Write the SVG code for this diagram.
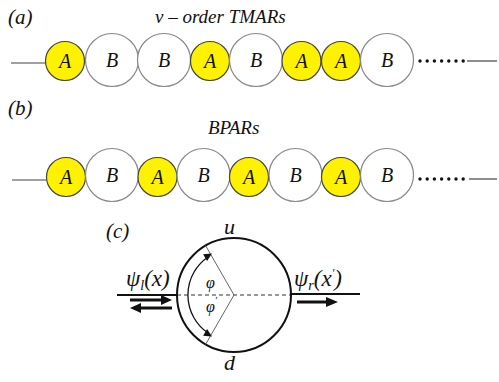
<svg xmlns="http://www.w3.org/2000/svg" width="499" height="382" viewBox="0 0 499 382">
<rect width="499" height="382" fill="#fff"/>
<text x="8" y="24" style="font-family:'Liberation Serif','Times New Roman',serif;font-style:italic;font-size:21px;fill:#111">(a)</text>
<text x="155" y="23" style="font-family:'Liberation Serif','Times New Roman',serif;font-style:italic;font-size:19px;fill:#111">ν – order TMARs</text>
<text x="8" y="115" style="font-family:'Liberation Serif','Times New Roman',serif;font-style:italic;font-size:21px;fill:#111">(b)</text>
<text x="208" y="134" style="font-family:'Liberation Serif','Times New Roman',serif;font-style:italic;font-size:19px;fill:#111">BPARs</text>

<g id="connectors" stroke="#444" stroke-width="1.2">
<line x1="11" y1="63" x2="46" y2="63"/>
<line x1="467" y1="61" x2="497" y2="61"/>
<line x1="12" y1="180" x2="46" y2="180"/>
<line x1="469" y1="179" x2="497" y2="179"/>
<g fill="#111" stroke="none">
<circle cx="420" cy="61" r="1.7"/><circle cx="427.2" cy="61" r="1.7"/><circle cx="434.4" cy="61" r="1.7"/><circle cx="441.6" cy="61" r="1.7"/><circle cx="448.8" cy="61" r="1.7"/><circle cx="456" cy="61" r="1.7"/><circle cx="463.2" cy="61" r="1.7"/>
<circle cx="420" cy="179" r="1.7"/><circle cx="427.2" cy="179" r="1.7"/><circle cx="434.4" cy="179" r="1.7"/><circle cx="441.6" cy="179" r="1.7"/><circle cx="448.8" cy="179" r="1.7"/><circle cx="456" cy="179" r="1.7"/><circle cx="463.2" cy="179" r="1.7"/>
</g>
</g>

<g id="rowA">
<g id="a1"><circle cx="65" cy="61" r="19.5" fill="#fff200" stroke="#444" stroke-width="1.2"/><text x="65" y="68" text-anchor="middle" style="font-family:'Liberation Serif','Times New Roman',serif;font-style:italic;font-size:20px;fill:#111">A</text></g>
<g id="a2"><circle cx="112" cy="60" r="26.5" fill="#fff" stroke="#888" stroke-width="1.2"/><text x="112" y="67" text-anchor="middle" style="font-family:'Liberation Serif','Times New Roman',serif;font-style:italic;font-size:20px;fill:#111">B</text></g>
<g id="a3"><circle cx="164" cy="60" r="26.5" fill="#fff" stroke="#888" stroke-width="1.2"/><text x="164" y="67" text-anchor="middle" style="font-family:'Liberation Serif','Times New Roman',serif;font-style:italic;font-size:20px;fill:#111">B</text></g>
<g id="a4"><circle cx="210" cy="61" r="19.5" fill="#fff200" stroke="#444" stroke-width="1.2"/><text x="210" y="68" text-anchor="middle" style="font-family:'Liberation Serif','Times New Roman',serif;font-style:italic;font-size:20px;fill:#111">A</text></g>
<g id="a5"><circle cx="256" cy="60" r="26.5" fill="#fff" stroke="#888" stroke-width="1.2"/><text x="256" y="67" text-anchor="middle" style="font-family:'Liberation Serif','Times New Roman',serif;font-style:italic;font-size:20px;fill:#111">B</text></g>
<g id="a6"><circle cx="301.5" cy="61" r="19.5" fill="#fff200" stroke="#444" stroke-width="1.2"/><text x="301.5" y="68" text-anchor="middle" style="font-family:'Liberation Serif','Times New Roman',serif;font-style:italic;font-size:20px;fill:#111">A</text></g>
<g id="a7"><circle cx="341" cy="61" r="19.5" fill="#fff200" stroke="#444" stroke-width="1.2"/><text x="341" y="68" text-anchor="middle" style="font-family:'Liberation Serif','Times New Roman',serif;font-style:italic;font-size:20px;fill:#111">A</text></g>
<g id="a8"><circle cx="387" cy="60" r="26.5" fill="#fff" stroke="#888" stroke-width="1.2"/><text x="387" y="67" text-anchor="middle" style="font-family:'Liberation Serif','Times New Roman',serif;font-style:italic;font-size:20px;fill:#111">B</text></g>
</g>

<g id="rowB">
<g id="b1"><circle cx="66" cy="177" r="19.5" fill="#fff200" stroke="#444" stroke-width="1.2"/><text x="66" y="184" text-anchor="middle" style="font-family:'Liberation Serif','Times New Roman',serif;font-style:italic;font-size:20px;fill:#111">A</text></g>
<g id="b2"><circle cx="112" cy="175" r="26.5" fill="#fff" stroke="#888" stroke-width="1.2"/><text x="112" y="182" text-anchor="middle" style="font-family:'Liberation Serif','Times New Roman',serif;font-style:italic;font-size:20px;fill:#111">B</text></g>
<g id="b3"><circle cx="157.5" cy="177" r="19.5" fill="#fff200" stroke="#444" stroke-width="1.2"/><text x="157.5" y="184" text-anchor="middle" style="font-family:'Liberation Serif','Times New Roman',serif;font-style:italic;font-size:20px;fill:#111">A</text></g>
<g id="b4"><circle cx="203.5" cy="175" r="26.5" fill="#fff" stroke="#888" stroke-width="1.2"/><text x="203.5" y="182" text-anchor="middle" style="font-family:'Liberation Serif','Times New Roman',serif;font-style:italic;font-size:20px;fill:#111">B</text></g>
<g id="b5"><circle cx="249" cy="177" r="19.5" fill="#fff200" stroke="#444" stroke-width="1.2"/><text x="249" y="184" text-anchor="middle" style="font-family:'Liberation Serif','Times New Roman',serif;font-style:italic;font-size:20px;fill:#111">A</text></g>
<g id="b6"><circle cx="295.5" cy="175" r="26.5" fill="#fff" stroke="#888" stroke-width="1.2"/><text x="295.5" y="182" text-anchor="middle" style="font-family:'Liberation Serif','Times New Roman',serif;font-style:italic;font-size:20px;fill:#111">B</text></g>
<g id="b7"><circle cx="341" cy="177" r="19.5" fill="#fff200" stroke="#444" stroke-width="1.2"/><text x="341" y="184" text-anchor="middle" style="font-family:'Liberation Serif','Times New Roman',serif;font-style:italic;font-size:20px;fill:#111">A</text></g>
<g id="b8"><circle cx="387" cy="175" r="26.5" fill="#fff" stroke="#888" stroke-width="1.2"/><text x="387" y="182" text-anchor="middle" style="font-family:'Liberation Serif','Times New Roman',serif;font-style:italic;font-size:20px;fill:#111">B</text></g>
</g>

<g id="partC">
<text x="106" y="238" style="font-family:'Liberation Serif','Times New Roman',serif;font-style:italic;font-size:21px;fill:#111">(c)</text>
<text x="224" y="234" style="font-family:'Liberation Serif','Times New Roman',serif;font-style:italic;font-size:22px;fill:#111">u</text>
<text x="224" y="370" style="font-family:'Liberation Serif','Times New Roman',serif;font-style:italic;font-size:22px;fill:#111">d</text>
<line x1="117" y1="295" x2="177" y2="295" stroke="#111" stroke-width="2"/>
<line x1="291" y1="294" x2="360" y2="294" stroke="#111" stroke-width="2"/>
<line x1="177" y1="295" x2="291" y2="295" stroke="#333" stroke-width="1.2" stroke-dasharray="4,3"/>
<circle cx="234" cy="295" r="57" fill="none" stroke="#111" stroke-width="2"/>
<line x1="234" y1="295" x2="205.6" y2="245.6" stroke="#666" stroke-width="1"/>
<line x1="234" y1="295" x2="205.6" y2="344.4" stroke="#666" stroke-width="1"/>
<path d="M 208 257 A 46 46 0 0 0 208 333" fill="none" stroke="#111" stroke-width="1.3"/>
<polygon points="212,253.5 207.1,261 203.1,254.2" fill="#111"/>
<polygon points="212,336.5 207.1,329 203.1,335.8" fill="#111"/>
<text x="206" y="288" style="font-family:'Liberation Serif','Times New Roman',serif;font-style:italic;font-size:16px;fill:#111">φ</text>
<text x="206" y="312" style="font-family:'Liberation Serif','Times New Roman',serif;font-style:italic;font-size:16px;fill:#111">φ<tspan style="font-size:10px" dy="-8">'</tspan></text>
<polygon points="130,298.5 161,298.5 161,295 172,300 161,305 161,301.5 130,301.5" fill="#111"/>
<polygon points="172,306.5 141,306.5 141,303 130,308 141,313 141,309.5 172,309.5" fill="#111"/>
<polygon points="297,300.5 326,300.5 326,297 338,302 326,307 326,303.5 297,303.5" fill="#111"/>
<text x="126" y="286" style="font-family:'Liberation Serif','Times New Roman',serif;font-style:italic;font-size:23px;fill:#111">ψ<tspan style="font-size:14px" dy="4">l</tspan><tspan dy="-4">(x)</tspan></text>
<text x="294" y="286" style="font-family:'Liberation Serif','Times New Roman',serif;font-style:italic;font-size:23px;fill:#111">ψ<tspan style="font-size:14px" dy="4">r</tspan><tspan dy="-4">(x</tspan><tspan style="font-size:12px" dy="-9">'</tspan><tspan dy="9">)</tspan></text>
</g>
</svg>
